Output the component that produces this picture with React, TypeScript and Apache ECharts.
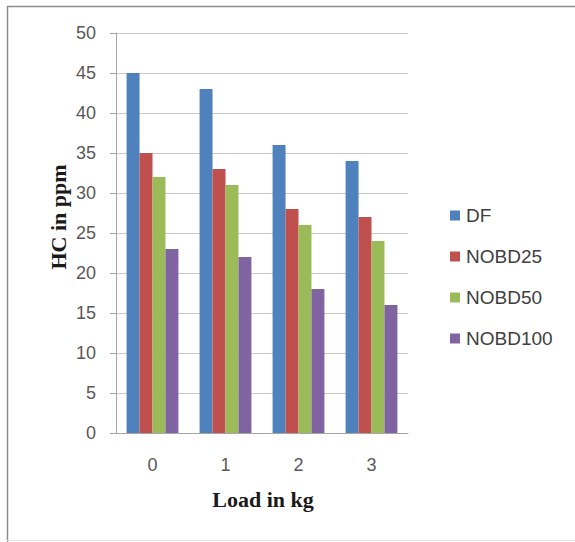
import React, { useEffect, useRef } from "react";
import * as echarts from "echarts";

const categories = ["0", "1", "2", "3"];
const seriesNames = ["DF", "NOBD25", "NOBD50", "NOBD100"];
const dfValues = [45, 43, 36, 34];
const nobd25Values = [35, 33, 28, 27];
const nobd50Values = [32, 31, 26, 24];
const nobd100Values = [23, 22, 18, 16];
const colors = ["#4F81BD", "#C0504D", "#9BBB59", "#8064A2"];

export default function App() {
  const ref = useRef<HTMLDivElement>(null);
  useEffect(() => {
    document.body.style.margin = "0";
    if (!ref.current) return;
    const chart = echarts.init(ref.current, null, { renderer: "svg" });
    const values = [dfValues, nobd25Values, nobd50Values, nobd100Values];
    chart.setOption({
      animation: false,
      backgroundColor: "#ffffff",
      color: colors,
      grid: { left: 116, right: 167, top: 33, bottom: 109, containLabel: false },
      legend: {
        orient: "vertical",
        left: 445,
        top: 201,
        itemWidth: 10,
        itemHeight: 10,
        itemGap: 22,
        icon: "rect",
        data: seriesNames,
        textStyle: {
          fontFamily: "Liberation Sans, Arial, sans-serif",
          fontSize: 19,
          lineHeight: 18,
          color: "#404040",
          padding: [0, 0, 0, 1],
        },
      },
      xAxis: {
        type: "category",
        data: categories,
        axisLine: { show: true, lineStyle: { color: "#a6a6a6", width: 1 } },
        axisTick: { show: false },
        axisLabel: {
          margin: 23,
          fontFamily: "Liberation Sans, Arial, sans-serif",
          fontSize: 18,
          color: "#595959",
        },
      },
      yAxis: {
        type: "value",
        min: 0,
        max: 50,
        interval: 5,
        axisLine: { show: true, lineStyle: { color: "#a6a6a6", width: 1 } },
        axisTick: { show: true, inside: false, length: 6, lineStyle: { color: "#a6a6a6" } },
        splitLine: { show: true, lineStyle: { color: "#c8c8c8", width: 1 } },
        axisLabel: {
          margin: 20,
          fontFamily: "Liberation Sans, Arial, sans-serif",
          fontSize: 18,
          color: "#595959",
        },
      },
      series: seriesNames.map((name, i) => ({
        name,
        type: "bar",
        data: values[i],
        barGap: "0%",
        barCategoryGap: "29%",
        itemStyle: { color: colors[i] },
      })),
      graphic: [
        {
          type: "text",
          x: 58,
          y: 217,
          rotation: Math.PI / 2,
          style: {
            text: "HC in ppm",
            font: "bold 22px 'Liberation Serif', 'Times New Roman', serif",
            fill: "#1a1a1a",
            align: "center",
            verticalAlign: "middle",
          },
        },
        {
          type: "text",
          x: 263,
          y: 499,
          style: {
            text: "Load in kg",
            font: "bold 22px 'Liberation Serif', 'Times New Roman', serif",
            fill: "#1a1a1a",
            align: "center",
            verticalAlign: "middle",
          },
        },
        {
          type: "line",
          shape: { x1: 7, y1: 6.5, x2: 575, y2: 6.5 },
          style: { stroke: "#8c8c8c", lineWidth: 1.5 },
        },
        {
          type: "line",
          shape: { x1: 7.5, y1: 6, x2: 7.5, y2: 542 },
          style: { stroke: "#8c8c8c", lineWidth: 1.5 },
        },
        {
          type: "line",
          shape: { x1: 7, y1: 540.5, x2: 575, y2: 540.5 },
          style: { stroke: "#e3e3e3", lineWidth: 1 },
        },
      ],
    });
    return () => chart.dispose();
  }, []);
  return <div ref={ref} style={{ width: 575, height: 542 }} />;
}
